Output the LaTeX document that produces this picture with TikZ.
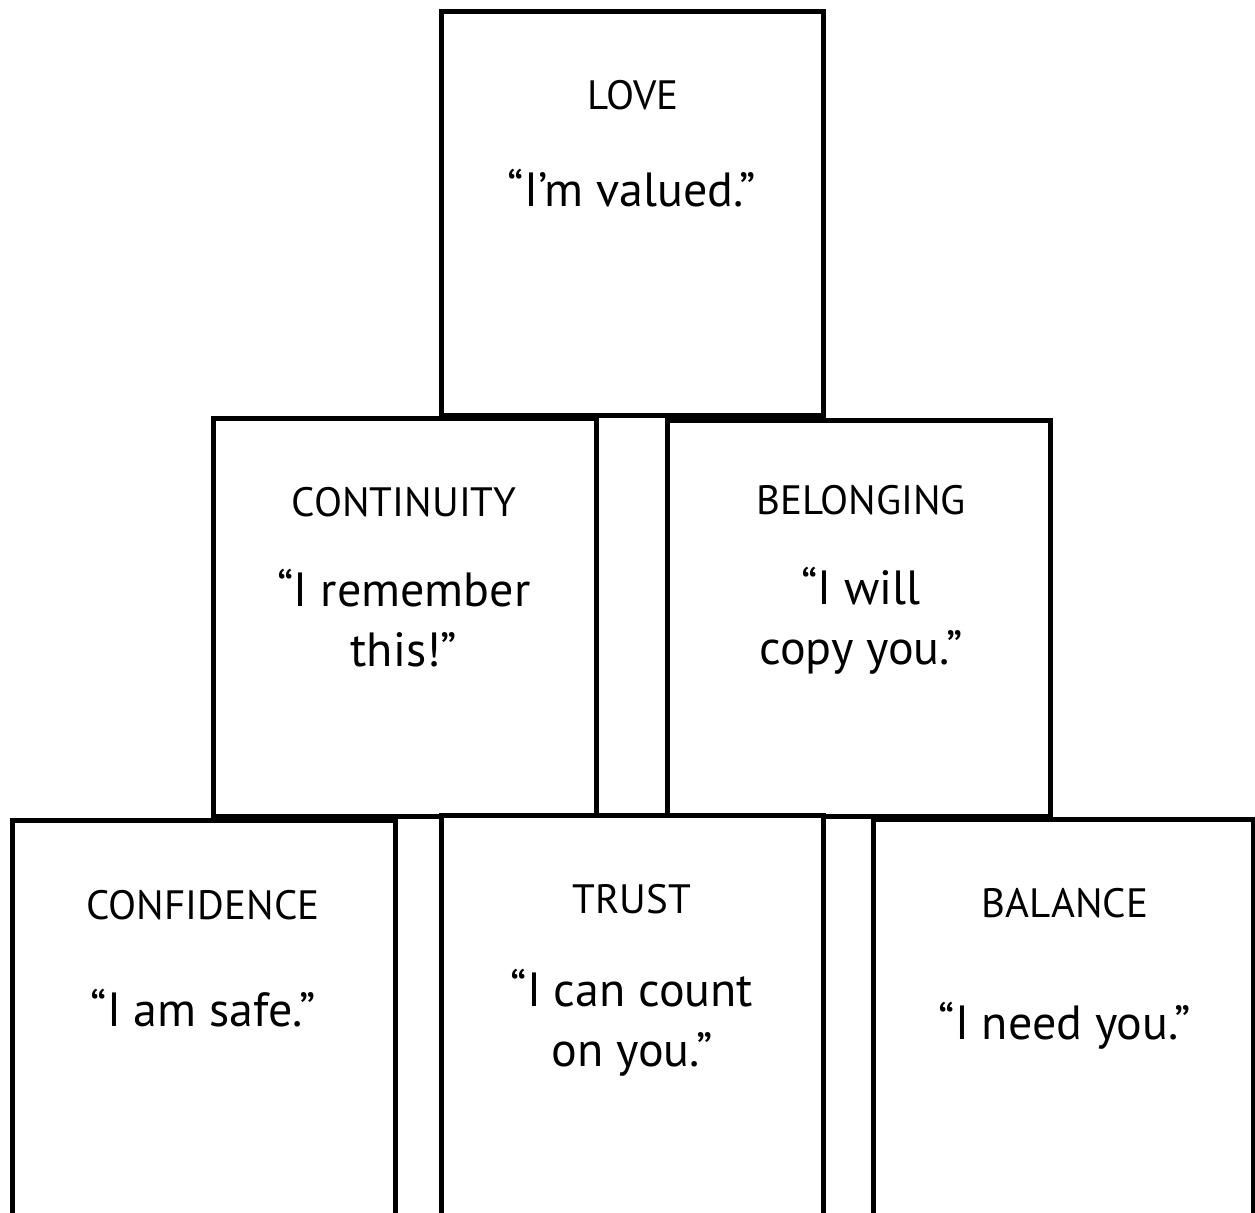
\documentclass[tikz,border=0pt]{standalone}
\usepackage{fontspec}
\setmainfont{PT Sans}
\begin{document}
\begin{tikzpicture}[x=0.5pt,y=-0.5pt,
  blockbox/.style={draw=black,line width=2.5pt,fill=white},
  title/.style={anchor=base,inner sep=0pt,font=\fontsize{20.5}{24}\selectfont},
  quote/.style={anchor=base,inner sep=0pt,align=center,font=\fontsize{24}{30}\selectfont}]
\useasboundingbox (0,0) rectangle (1255,1213);
\clip (0,0) rectangle (1255,1213);
% boxes
\draw[blockbox] (441,12) rectangle (823,416);
\draw[blockbox] (213,419) rectangle (596,817);
\draw[blockbox] (667,421) rectangle (1050,817);
\draw[blockbox] (12,821) rectangle (395,1240);
\draw[blockbox] (441,816) rectangle (823,1240);
\draw[blockbox] (873,820) rectangle (1253,1240);
% texts
\node[title] (tlove) at (633,110) {LOVE};
\node[quote] (qlove) at (632,207) {“I’m valued.”};
\node[title] (tcont) at (404,517) {CONTINUITY};
\node[quote] (qcont) at (404,667) {“I remember\\this!”};
\node[title] (tbel) at (861,515) {BELONGING};
\node[quote] (qbel) at (861,665) {“I will\\copy you.”};
\node[title] (tconf) at (203,920) {CONFIDENCE};
\node[quote] (qconf) at (203,1027) {“I am safe.”};
\node[title] (ttrust) at (632,914) {TRUST};
\node[quote] (qtrust) at (632,1067) {“I can count\\on you.”};
\node[title] (tbal) at (1065,918) {BALANCE};
\node[quote] (qbal) at (1065,1040) {“I need you.”};
\end{tikzpicture}
\end{document}
